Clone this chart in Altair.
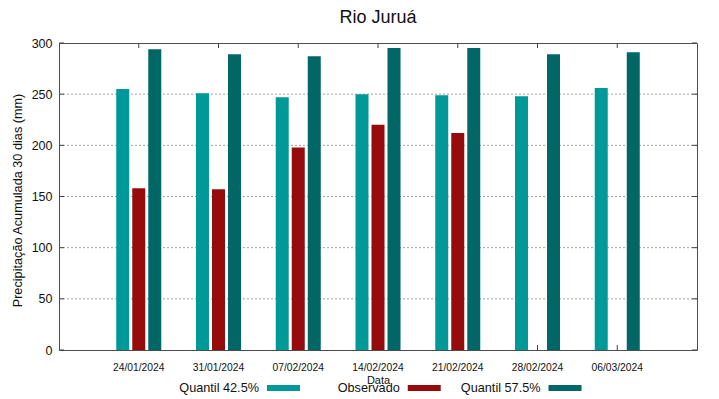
import altair as alt
import pandas as pd

dates = ["24/01/2024", "31/01/2024", "07/02/2024", "14/02/2024",
         "21/02/2024", "28/02/2024", "06/03/2024"]
series = ["Quantil 42.5%", "Observado", "Quantil 57.5%"]
q425 = [255, 251, 247, 250, 249, 248, 256]
obs = [158, 157, 198, 220, 212, None, None]
q575 = [294, 289, 287, 295, 295, 289, 291]
colors = ["#009999", "#960c0c", "#006666"]
yticks = [0, 50, 100, 150, 200, 250, 300]
grid_vals = [50, 100, 150, 200, 250]

W, H = 638, 307
FONT = "Liberation Sans"

rows = []
for name, vals in zip(series, [q425, obs, q575]):
    for d, v in zip(dates, vals):
        if v is not None:
            rows.append({"date": d, "series": name, "value": v})
df = pd.DataFrame(rows)

xscale = alt.Scale(domain=dates, paddingInner=0, paddingOuter=0.5)
yscale = alt.Scale(domain=[0, 300], nice=False)
cscale = alt.Scale(domain=series, range=colors)

grid_df = pd.DataFrame({"v": grid_vals})
ytick_df = pd.DataFrame({"v": yticks})
xtick_df = pd.DataFrame({"date": dates})

grid = alt.Chart(grid_df).mark_rule(color="#a0a0a0", strokeDash=[2, 2], strokeWidth=1).encode(
    y=alt.Y("v:Q", scale=yscale, axis=None),
    x=alt.value(0), x2=alt.value(W),
)

ytl = alt.Chart(ytick_df).mark_rule(color="#444", strokeWidth=1).encode(
    y=alt.Y("v:Q", scale=yscale, axis=None), x=alt.value(0), x2=alt.value(5))
ytr = alt.Chart(ytick_df).mark_rule(color="#444", strokeWidth=1).encode(
    y=alt.Y("v:Q", scale=yscale, axis=None), x=alt.value(W - 5), x2=alt.value(W))
xtt = alt.Chart(xtick_df).mark_rule(color="#444", strokeWidth=1).encode(
    x=alt.X("date:N", scale=xscale, sort=dates, axis=None), y=alt.value(0), y2=alt.value(5))
xtb = alt.Chart(xtick_df).mark_rule(color="#444", strokeWidth=1).encode(
    x=alt.X("date:N", scale=xscale, sort=dates, axis=None), y=alt.value(H - 5), y2=alt.value(H))

bars = alt.Chart(df).mark_bar(size=13).encode(
    x=alt.X("date:N", scale=xscale, sort=dates,
            axis=alt.Axis(title="Data", labelAngle=0, ticks=False, domain=False,
                          labelFontSize=10.3, labelPadding=12,
                          titleY=33, titleBaseline="alphabetic")),
    xOffset=alt.XOffset("series:N", sort=series,
                        scale=alt.Scale(domain=series, paddingInner=0, paddingOuter=0.99)),
    y=alt.Y("value:Q", scale=yscale,
            axis=alt.Axis(values=yticks, title="Precipitação Acumulada 30 dias (mm)",
                          grid=False, ticks=False, domain=False, labelFontSize=12.5,
                          labelPadding=7, titleFontSize=12.7,
                          titleX=-42, titleY=157, titleBaseline="middle")),
    color=alt.Color("series:N", scale=cscale, legend=None),
)

leg_df = pd.DataFrame({"series": series})
lscale = alt.Scale(domain=series, range=[154.1, 576.4], paddingInner=0, paddingOuter=0)
leg_sw = alt.Chart(leg_df).mark_bar(size=33).encode(
    x=alt.X("series:N", sort=series, scale=lscale, axis=None),
    y=alt.value(342), y2=alt.value(348),
    color=alt.Color("series:N", scale=cscale, legend=None),
)
leg_tx = alt.Chart(leg_df).mark_text(align="right", baseline="middle", dx=-24.5,
                                     fontSize=12.7, font=FONT, color="#111").encode(
    x=alt.X("series:N", sort=series, scale=lscale, axis=None),
    y=alt.value(345),
    text="series:N",
)

chart = alt.layer(grid, ytl, ytr, xtt, xtb, bars, leg_sw, leg_tx).resolve_scale(
    x="independent"
).resolve_axis(
    y="independent"
).properties(
    width=W, height=H,
    title=alt.TitleParams("Rio Juruá", fontSize=18, font=FONT, fontWeight="normal",
                          color="#111", anchor="middle", offset=10),
    autosize=alt.AutoSizeParams(type="none"),
    padding={"left": 51, "top": 35, "right": 14, "bottom": 48},
).configure_view(
    stroke="#4d4d4d", strokeWidth=1
).configure_axis(
    labelFont=FONT, titleFont=FONT, labelColor="#111", titleColor="#111",
    titleFontWeight="normal"
)

chart.save("out.html", embed_options={"renderer": "svg", "actions": False})
